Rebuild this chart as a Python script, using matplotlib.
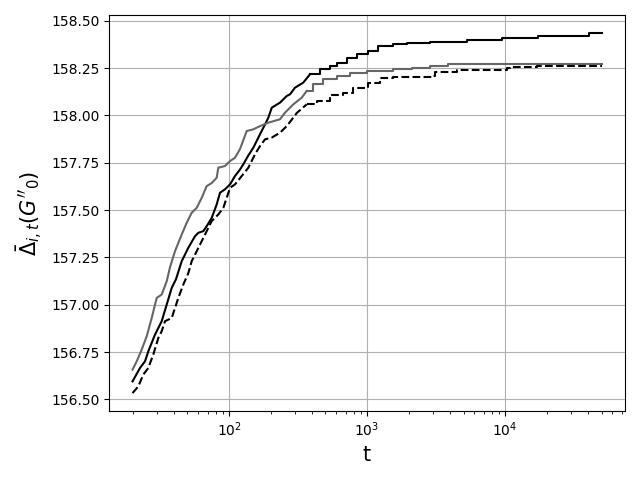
import matplotlib
matplotlib.use("Agg")
import matplotlib.pyplot as plt

t_black = [20, 22.65, 24.62, 26.02, 29.09, 32.53, 35.37, 38.44, 41.30, 45.42, 50.72, 56.69, 59.91, 65.13, 68.92,
           74.92, 81.43, 86.05, 93.54, 101.7, 110.5, 120.2, 126.9, 137.3, 150.1, 167.8, 182.4, 192.7, 203.9, 234.2,
           261.9, 276.7, 300.8, 345.5, 386.4, 456.4, 539.4, 603.2, 712.7, 842.2, 1022, 1207, 1543, 1940, 2861,
           5278, 9465, 14360, 17430, 40620, 50000]
y_black = [156.595, 156.666, 156.701, 156.754, 156.842, 156.913, 157.001, 157.089, 157.135, 157.230, 157.301,
           157.362, 157.380, 157.389, 157.415, 157.459, 157.530, 157.592, 157.610, 157.636, 157.680, 157.715,
           157.742, 157.786, 157.830, 157.901, 157.953, 157.988, 158.041, 158.068, 158.103, 158.112, 158.147,
           158.174, 158.218, 158.244, 158.262, 158.279, 158.306, 158.324, 158.341, 158.368, 158.377, 158.382,
           158.389, 158.398, 158.408, 158.412, 158.421, 158.434, 158.434]

t_gray = [20, 21.44, 23.31, 25.33, 27.54, 29.93, 32.53, 35.37, 37.36, 40.62, 45.42, 49.38, 53.67, 58.33, 63.42,
          68.92, 74.92, 81.43, 83.64, 93.54, 101.7, 110.5, 120.2, 134.4, 150.1, 167.8, 192.7, 234.2, 254.6, 292.4,
          336.4, 365.6, 408.2, 482.5, 603.2, 753.0, 995, 1551, 2108, 2861, 3883, 50000]
y_gray = [156.657, 156.701, 156.763, 156.833, 156.930, 157.036, 157.054, 157.124, 157.198, 157.283, 157.371,
          157.433, 157.486, 157.512, 157.565, 157.627, 157.643, 157.671, 157.724, 157.733, 157.759, 157.777,
          157.823, 157.918, 157.927, 157.944, 157.962, 157.980, 158.015, 158.059, 158.094, 158.130, 158.165,
          158.192, 158.209, 158.226, 158.235, 158.244, 158.253, 158.260, 158.271, 158.271]

t_dash = [20, 22.02, 23.93, 26.02, 28.28, 30.74, 32.53, 34.38, 38.44, 40.62, 42.92, 46.66, 50.72, 53.67, 58.33,
          63.42, 68.92, 74.92, 83.64, 90.93, 96.23, 101.7, 110.5, 120.2, 138.0, 154.3, 167.8, 182.4, 203.9, 234.2,
          261.9, 276.7, 309.5, 365.6, 432.0, 539.4, 673.4, 795.7, 1022, 1242, 1551, 2943, 3110, 4467, 10290,
          10870, 16970, 50000]
y_dash = [156.533, 156.569, 156.631, 156.666, 156.737, 156.824, 156.860, 156.913, 156.930, 156.983, 157.036,
          157.107, 157.167, 157.230, 157.283, 157.336, 157.389, 157.442, 157.477, 157.512, 157.565, 157.618,
          157.636, 157.669, 157.724, 157.795, 157.839, 157.874, 157.883, 157.909, 157.944, 157.966, 158.013,
          158.059, 158.077, 158.108, 158.121, 158.147, 158.174, 158.196, 158.205, 158.209, 158.232, 158.242,
          158.250, 158.255, 158.262, 158.262]

T_SPLIT = 400  # below this the fine steps read as a continuous line


def draw(ax, t, y, **kw):
    k = next(i for i, v in enumerate(t) if v > T_SPLIT)
    ax.plot(t[:k], y[:k], **kw)
    ax.plot(t[k - 1:], y[k - 1:], drawstyle="steps-post", **kw)


fig, ax = plt.subplots(figsize=(6.4, 4.8), dpi=100)
draw(ax, t_black, y_black, color="black", lw=1.5)
draw(ax, t_gray, y_gray, color="#666666", lw=1.5)
draw(ax, t_dash, y_dash, color="black", lw=1.5, ls="--")
ax.set_xscale("log")
ax.grid(True)
ax.set_xlabel("t", fontsize=15)
ax.set_ylabel(r"$\bar{\Delta}_{i,t}(G''{}_0)$", fontsize=15)
fig.tight_layout()
fig.savefig("out.png", dpi=100)
